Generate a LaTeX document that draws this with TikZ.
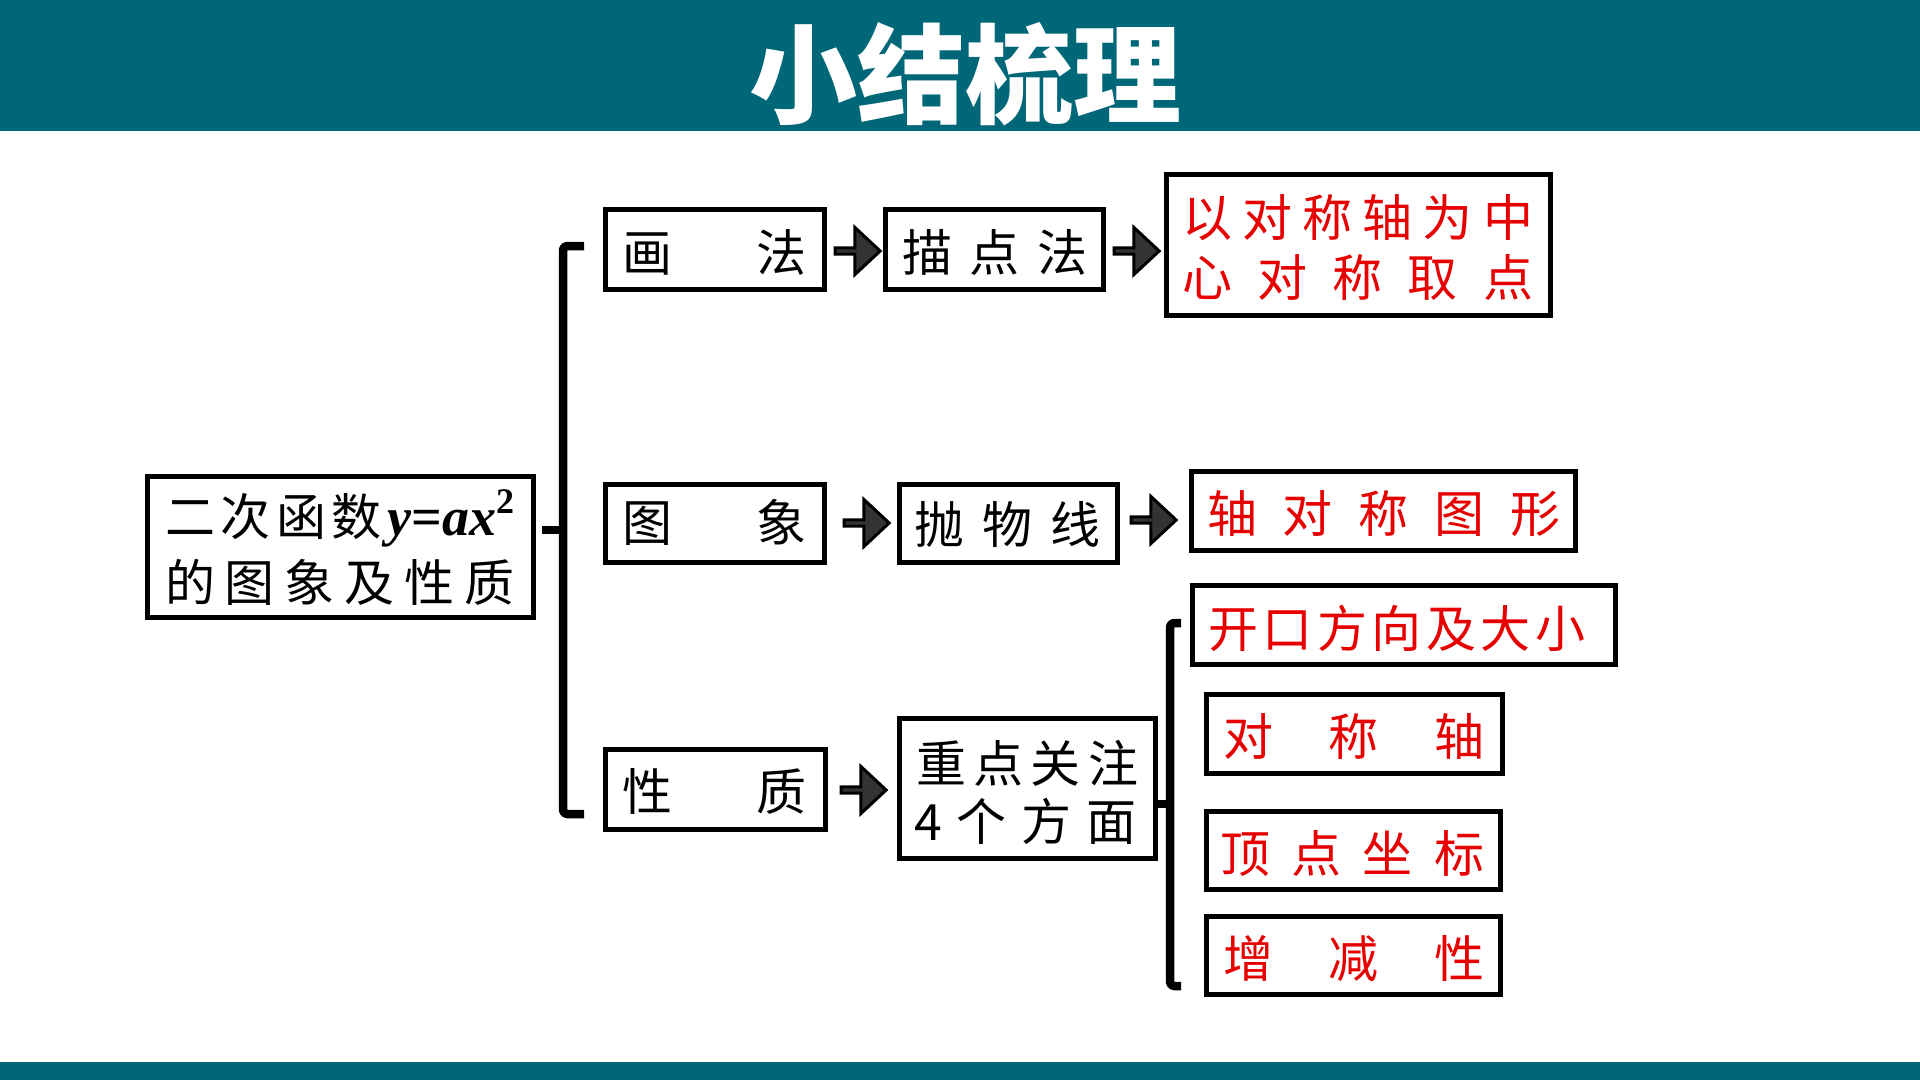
\documentclass[tikz,border=0pt]{standalone}
\usepackage{fontspec}
\setmainfont{Noto Sans CJK SC}
\newfontfamily\tnr{Liberation Serif}
\usetikzlibrary{shapes.arrows}
\definecolor{headteal}{RGB}{0,103,120}
\definecolor{redtxt}{RGB}{230,0,0}
\definecolor{arrowgray}{RGB}{51,51,51}
\newcommand\spreadbox[2]{\makebox[#1pt]{#2}}
\newcommand\formula{{\fontsize{54}{54}\selectfont\tnr\bfseries\itshape y\upshape=\itshape ax\raisebox{0.4em}{\upshape\bfseries\fontsize{36}{36}\selectfont 2}}}
\tikzset{
  box/.style={draw=black, line width=5pt, fill=white, inner sep=0pt, rectangle},
  txt/.style={anchor=base, inner sep=0pt, font=\fontsize{50}{50}\selectfont},
  rtxt/.style={txt, text=redtxt},
  blockarrow/.style={single arrow, draw=black, fill=arrowgray, line width=3pt,
    inner sep=0pt, minimum height=45pt, minimum width=47pt,
    single arrow head extend=10pt, single arrow tip angle=86},
  brk/.style={line width=8.5pt, line join=round, line cap=butt, rounded corners=4pt},
}
\begin{document}
\begin{tikzpicture}[x=1pt,y=-1pt]
\useasboundingbox (0,0) rectangle (1920,1080);
\fill[white] (0,0) rectangle (1920,1080);
% header and footer bands
\fill[headteal] (0,0) rectangle (1920,131);
\fill[headteal] (0,1062) rectangle (1920,1080);
\node[anchor=base, inner sep=0pt, text=white, font=\fontsize{108}{108}\selectfont\bfseries] (title) at (965,115) {小结梳理};

% main box
\node[box, minimum width=386pt, minimum height=141pt] (main) at (340,546.5) {};
\node[txt] (mainA) at (339.5,535) {\spreadbox{349}{二\hfill 次\hfill 函\hfill 数\hfill\formula}};
\node[txt] (mainB) at (339.5,601) {\spreadbox{349}{的\hfill 图\hfill 象\hfill 及\hfill 性\hfill 质}};

% big bracket
\coordinate (B1t) at (584,246);
\coordinate (B1tc) at (563,246);
\coordinate (B1bc) at (563,814);
\coordinate (B1b) at (584,814);
\coordinate (B1m) at (563,530);
\coordinate (B1s) at (542,530);
\draw[brk] (B1t) -- (B1tc) -- (B1bc) -- (B1b);
\draw[brk] (B1s) -- (B1m);

% column 2
\node[box, minimum width=219pt, minimum height=80pt] (huafa) at (714.5,249) {};
\node[txt] (huafaT) at (714,271) {\spreadbox{184}{画\hfill 法}};
\node[box, minimum width=219pt, minimum height=78pt] (tuxiang) at (714.5,523) {};
\node[txt] (tuxiangT) at (714,541) {\spreadbox{184}{图\hfill 象}};
\node[box, minimum width=220pt, minimum height=80pt] (xingzhi) at (715,789) {};
\node[txt] (xingzhiT) at (714,810) {\spreadbox{184}{性\hfill 质}};

% arrows
\node[blockarrow] (a1) at (856,251) {};
\node[blockarrow] (a2) at (1135,251) {};
\node[blockarrow] (a3) at (865,523) {};
\node[blockarrow] (a4) at (1152,520) {};
\node[blockarrow] (a5) at (862,790) {};

% column 3
\node[box, minimum width=218pt, minimum height=80pt] (miaodian) at (994,249) {};
\node[txt] (miaodianT) at (994.5,271) {\spreadbox{185}{描\hfill 点\hfill 法}};
\node[box, minimum width=218pt, minimum height=78pt] (paowu) at (1008,523) {};
\node[txt] (paowuT) at (1007,543) {\spreadbox{186}{抛\hfill 物\hfill 线}};
\node[box, minimum width=256pt, minimum height=140pt] (zhongdian) at (1027,788) {};
\node[txt] (zhongdianA) at (1027,782) {\spreadbox{222}{重\hfill 点\hfill 关\hfill 注}};
\node[txt] (zhongdianB) at (1025,840) {\spreadbox{222}{4\hfill 个\hfill 方\hfill 面}};

% red boxes
\node[box, minimum width=384pt, minimum height=141pt] (r1) at (1358,244.5) {};
\node[rtxt] (r1A) at (1357.5,236) {\spreadbox{351}{以\hfill 对\hfill 称\hfill 轴\hfill 为\hfill 中}};
\node[rtxt] (r1B) at (1357.5,296) {\spreadbox{351}{心\hfill 对\hfill 称\hfill 取\hfill 点}};
\node[box, minimum width=384pt, minimum height=79pt] (r2) at (1383,510.5) {};
\node[rtxt] (r2T) at (1383.5,532) {\spreadbox{353}{轴\hfill 对\hfill 称\hfill 图\hfill 形}};
\node[box, minimum width=423pt, minimum height=79pt] (r3) at (1403.5,624.5) {};
\node[rtxt] (r3T) at (1396.5,647) {\spreadbox{377}{开\hfill 口\hfill 方\hfill 向\hfill 及\hfill 大\hfill 小}};
\node[box, minimum width=296pt, minimum height=79pt] (r4) at (1354,733.5) {};
\node[rtxt] (r4T) at (1353.5,755) {\spreadbox{261}{对\hfill 称\hfill 轴}};
\node[box, minimum width=294pt, minimum height=78pt] (r5) at (1353,850) {};
\node[rtxt] (r5T) at (1352,872) {\spreadbox{264}{顶\hfill 点\hfill 坐\hfill 标}};
\node[box, minimum width=294pt, minimum height=78pt] (r6) at (1353,955) {};
\node[rtxt] (r6T) at (1353.5,977) {\spreadbox{261}{增\hfill 减\hfill 性}};

% small bracket
\coordinate (B2t) at (1181,623);
\coordinate (B2tc) at (1170,623);
\coordinate (B2bc) at (1170,986);
\coordinate (B2b) at (1181,986);
\coordinate (B2m) at (1170,804);
\coordinate (B2s) at (1156,804);
\draw[brk] (B2t) -- (B2tc) -- (B2bc) -- (B2b);
\draw[brk] (B2s) -- (B2m);
\end{tikzpicture}
\end{document}
